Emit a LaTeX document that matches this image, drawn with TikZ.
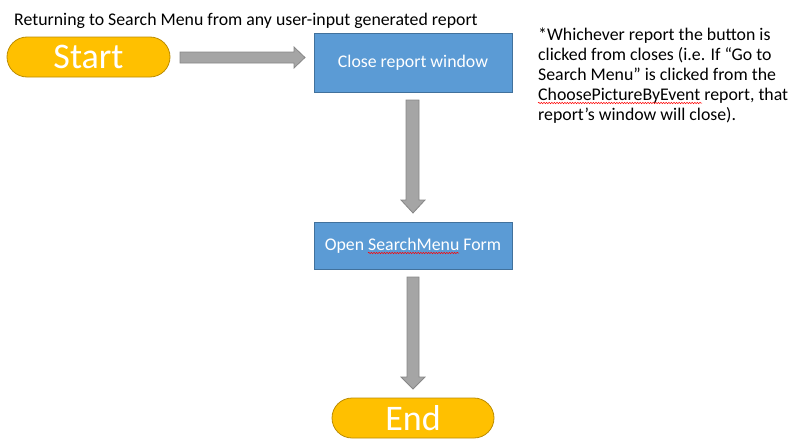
\documentclass[tikz,border=0pt]{standalone}
\usepackage{fontspec}
\setmainfont{Carlito}
\usetikzlibrary{decorations.pathmorphing}
\definecolor{startfill}{HTML}{FFC000}
\definecolor{startdraw}{HTML}{BC8C00}
\definecolor{boxfill}{HTML}{5B9BD5}
\definecolor{boxdraw}{HTML}{41719C}
\definecolor{arrfill}{HTML}{A5A5A5}
\definecolor{arrdraw}{HTML}{878787}
\tikzset{
  pill/.style={draw=startdraw, fill=startfill, line width=0.8pt, rounded corners=20pt,
    minimum width=#1, minimum height=40pt, inner sep=0pt, text=white,
    font=\fontsize{36}{36}\selectfont},
  procbox/.style={draw=boxdraw, fill=boxfill, line width=0.8pt, minimum width=198pt,
    inner sep=0pt, text=white, font=\fontsize{17.8}{20}\selectfont},
  blockarrow/.style={draw=arrdraw, fill=arrfill, line width=0.8pt},
  plaintext/.style={inner sep=0pt, font=\fontsize{17.8}{20}\selectfont, anchor=base west},
  squiggle/.style={draw=red, line width=0.5pt, decorate,
    decoration={snake, amplitude=0.7pt, segment length=2.6pt}}
}
\begin{document}
\begin{tikzpicture}[x=1pt, y=-1pt]
\useasboundingbox (0,0) rectangle (804,447);
\node[plaintext] (title) at (14,25) {Returning to Search Menu from any user-input generated report};
\node[pill=163pt] (start) at (88.5,57) {Start};
\node[procbox, minimum height=59pt] (close) at (413,62.5) {Close report window};
\node[procbox, minimum height=47pt] (open) at (413,245.5) {Open SearchMenu Form};
\node[pill=162pt] (end) at (413,418) {End};
\node[plaintext] (note1) at (538,40.7) {*Whichever report the button is};
\node[plaintext] (note2) at (538,60.7) {clicked from closes (i.e. If “Go to};
\node[plaintext] (note3) at (538,80.7) {Search Menu” is clicked from the};
\node[plaintext] (note4) at (538,100.7) {ChoosePictureByEvent report, that};
\node[plaintext] (note5) at (538,120.7) {report’s window will close).};
% block arrows
\draw[blockarrow] (180,52) -- (294,52) -- (294,47) -- (305,57.5) -- (294,68) -- (294,63) -- (180,63) -- cycle;
\draw[blockarrow] (406,100) -- (406,200) -- (401,200) -- (413,213) -- (425,200) -- (419,200) -- (419,100) -- cycle;
\draw[blockarrow] (407,277) -- (407,377) -- (401,377) -- (413,389) -- (425,377) -- (419,377) -- (419,277) -- cycle;
% spelling squiggles
\draw[squiggle] (368,253) -- (459,253);
\draw[squiggle] (538,103) -- (702,103);
\end{tikzpicture}
\end{document}
